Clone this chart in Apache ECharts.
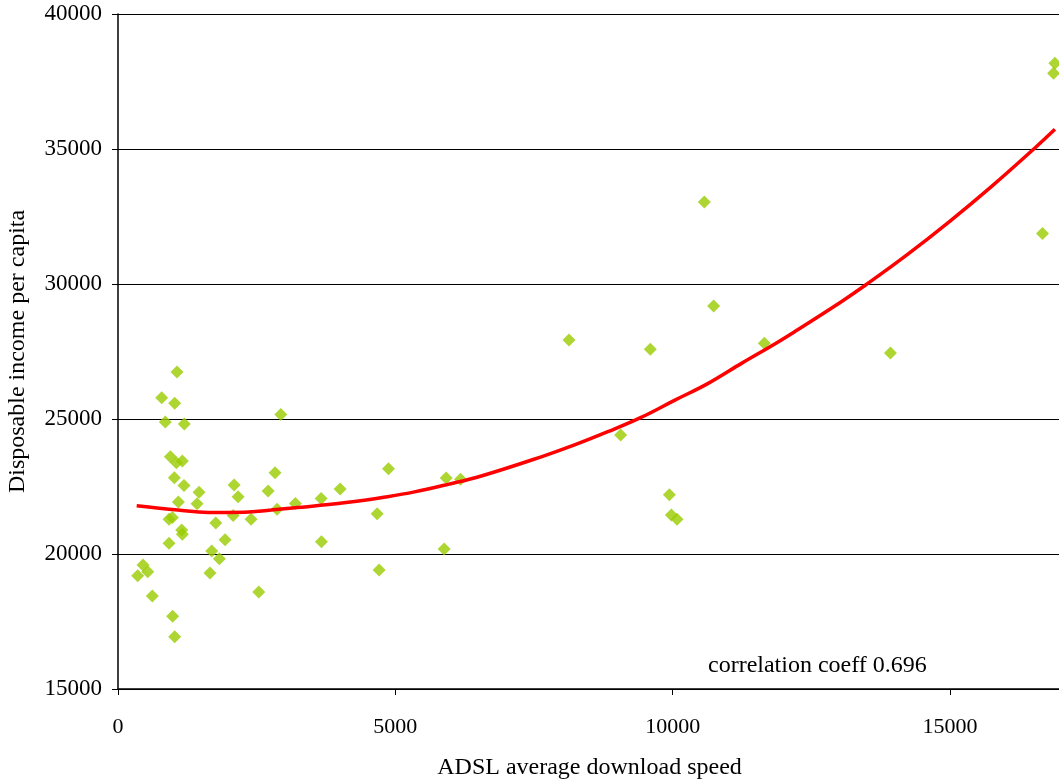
<!DOCTYPE html>
<html>
<head>
<meta charset="utf-8">
<title>ADSL speed vs disposable income</title>
<script src="https://cdn.jsdelivr.net/npm/echarts@6/dist/echarts.min.js"></script>
<style>
  html, body { margin: 0; padding: 0; background: #fff; }
  #chart { width: 1059px; height: 782px; }
</style>
</head>
<body>
<div id="chart"></div>
<script>
// Regions: ADSL average download speed (x) and disposable income per capita (y)
const speeds = [
  1064, 788, 1022, 853, 1196, 2935, 944, 1052, 1160, 1016,
  1190, 1461, 1088, 1425, 2093, 2165, 2832, 2706, 2868, 3198,
  3662, 3668, 920, 980, 1762, 2075, 2399, 1148, 1160, 920,
  1930, 1690, 1827, 1659, 451, 536, 355, 619, 2538, 985,
  1022, 4004, 4876, 4672, 4708, 5916, 6174, 5880, 10570, 8130,
  9596, 10738, 11652, 9061, 9940, 9976, 10078, 16890, 16866, 16667,
  13925
];
const incomes = [
  26740, 25790, 25580, 24890, 24815, 25170, 23600, 23380, 23440, 22820,
  22540, 22285, 21925, 21860, 22555, 22120, 23010, 22330, 21655, 21875,
  22060, 20455, 21285, 21355, 21150, 21430, 21290, 20885, 20730, 20395,
  20530, 20110, 19825, 19295, 19590, 19345, 19195, 18445, 18590, 17690,
  16935, 22405, 23160, 21490, 19405, 22815, 22765, 20185, 33040, 27925,
  27580, 29185, 27805, 24405, 22195, 21445, 21285, 38175, 37805, 31875,
  27445
];

// Polynomial trend line, sampled along x
const trendX = [337, 1080, 1620, 2280, 2760, 3240, 3840, 4440, 4740, 5345,
                5950, 6550, 7630, 8230, 8830, 9430, 10040, 10640, 11240, 11840,
                12140, 13040, 13490, 14240, 15000, 15750, 16520, 16890];
const trendY = [21790, 21630, 21540, 21550, 21630, 21720, 21840, 21990, 22080, 22300,
                22580, 22890, 23600, 24040, 24530, 25060, 25700, 26320, 27060, 27780,
                28160, 29345, 29980, 31105, 32330, 33615, 35020, 35730];

const correlationText = 'correlation coeff 0.696';
const xTitle = 'ADSL average download speed';
const yTitle = 'Disposable income per capita';

const points = speeds.map((s, i) => [s, incomes[i]]);
const trend = trendX.map((x, i) => [x, trendY[i]]);

const serif = '"Liberation Serif", "Times New Roman", serif';

const chart = echarts.init(document.getElementById('chart'), null, { renderer: 'canvas' });
chart.setOption({
  backgroundColor: '#ffffff',
  animation: false,
  grid: {
    left: 118, right: -2, top: 14, bottom: 93,
    containLabel: false,
    outerBoundsMode: 'none'
  },
  xAxis: {
    type: 'value',
    min: 0, max: 17000, interval: 5000,
    name: xTitle,
    nameLocation: 'middle',
    nameGap: 67,
    nameTextStyle: { fontFamily: serif, fontSize: 24, color: '#000' },
    axisLine: { show: true, lineStyle: { color: '#000', width: 1.5 } },
    axisTick: { show: true, inside: false, length: 6, lineStyle: { color: '#000' } },
    axisLabel: {
      fontFamily: serif, fontSize: 22, color: '#000', margin: 27,
      showMaxLabel: false,
      formatter: v => (v % 5000 === 0 ? String(v) : '')
    },
    splitLine: { show: false }
  },
  yAxis: {
    type: 'value',
    min: 15000, max: 40000, interval: 5000,
    name: yTitle,
    nameLocation: 'middle',
    nameGap: 88,
    nameRotate: 90,
    nameTextStyle: { fontFamily: serif, fontSize: 24, color: '#000' },
    axisLine: { show: true, lineStyle: { color: '#000', width: 1.5 } },
    axisTick: { show: true, inside: false, length: 6, lineStyle: { color: '#000' } },
    axisLabel: {
      fontFamily: serif, fontSize: 23, color: '#000', margin: 16,
      formatter: v => String(v)
    },
    splitLine: { show: true, lineStyle: { color: '#000', width: 1 } }
  },
  series: [
    {
      name: 'regions',
      type: 'scatter',
      data: points,
      symbol: 'diamond',
      symbolSize: 13,
      itemStyle: { color: '#99CC00' },
      z: 3
    },
    {
      name: 'trend',
      type: 'line',
      data: trend,
      smooth: 0.4,
      showSymbol: false,
      lineStyle: { color: '#FF0000', width: 3.5 },
      z: 4
    }
  ],
  graphic: [
    {
      type: 'text',
      left: 708,
      top: 654,
      style: {
        text: correlationText,
        font: '24px ' + serif,
        fill: '#000'
      }
    }
  ]
});
</script>
</body>
</html>
